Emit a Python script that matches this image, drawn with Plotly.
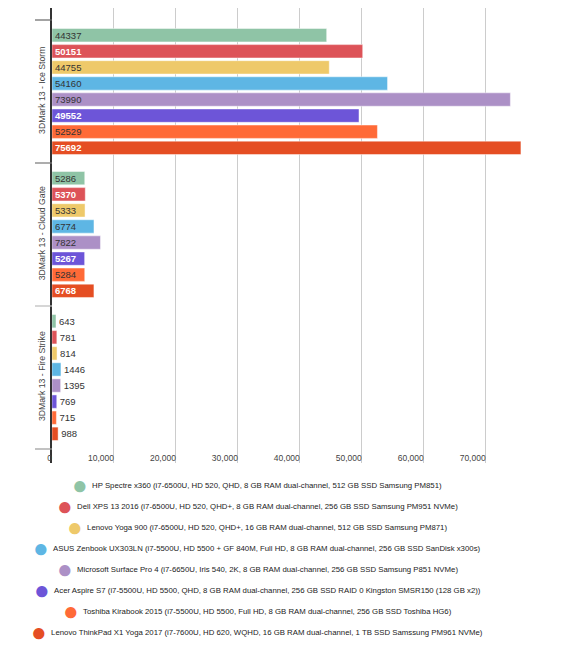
import plotly.graph_objects as go

tests = ["3DMark 13 - Ice Storm", "3DMark 13 - Cloud Gate", "3DMark 13 - Fire Strike"]

laptops = [
    "HP Spectre x360 (i7-6500U, HD 520, QHD, 8 GB RAM dual-channel, 512 GB SSD Samsung PM851)",
    "Dell XPS 13 2016 (i7-6500U, HD 520, QHD+, 8 GB RAM dual-channel, 256 GB SSD Samsung PM951 NVMe)",
    "Lenovo Yoga 900 (i7-6500U, HD 520, QHD+, 16 GB RAM dual-channel, 512 GB SSD Samsung PM871)",
    "ASUS Zenbook UX303LN (i7-5500U, HD 5500 + GF 840M, Full HD, 8 GB RAM dual-channel, 256 GB SSD SanDisk x300s)",
    "Microsoft Surface Pro 4 (i7-6650U, Iris 540, 2K, 8 GB RAM dual-channel, 256 GB SSD Samsung P851 NVMe)",
    "Acer Aspire S7 (i7-5500U, HD 5500, QHD, 8 GB RAM dual-channel, 256 GB SSD RAID 0 Kingston SMSR150 (128 GB x2))",
    "Toshiba Kirabook 2015 (i7-5500U, HD 5500, Full HD, 8 GB RAM dual-channel, 256 GB SSD Toshiba HG6)",
    "Lenovo ThinkPad X1 Yoga 2017 (i7-7600U, HD 620, WQHD, 16 GB RAM dual-channel, 1 TB SSD Samssung PM961 NVMe)",
]

ice_storm = [44337, 50151, 44755, 54160, 73990, 49552, 52529, 75692]
cloud_gate = [5286, 5370, 5333, 6774, 7822, 5267, 5284, 6768]
fire_strike = [643, 781, 814, 1446, 1395, 769, 715, 988]

colors = ["#8FC4A6", "#DD5358", "#EEC96A", "#5EB6E4", "#AC90C6", "#6D55D8", "#FF6A37", "#E54E23"]
white_text = {1, 5, 7}

font = "Liberation Sans, Arial, sans-serif"

# page body has an 8px margin, so everything is laid out 8px up/left
off = 8
fig_w, fig_h = 567 - off, 647 - off
left, top = 52 - off, 0
plot_bottom = 463 - off
plot_right = 547 - off
bottom = fig_h - plot_bottom
right = fig_w - plot_right
plot_w = plot_right - left
plot_h = plot_bottom - top


def xpaper(px):
    return (px - off - left) / plot_w


def ypaper(px):
    return (plot_bottom - (px - off)) / plot_h


fig = go.Figure()
for i, name in enumerate(laptops):
    vals = [ice_storm[i], cloud_gate[i], fire_strike[i]]
    fig.add_trace(go.Bar(
        x=vals,
        y=tests,
        orientation="h",
        name=name,
        marker=dict(color=colors[i], line=dict(color="rgba(255,255,255,0.45)", width=1)),
        text=[str(v) for v in vals],
        texttemplate="%{text}",
        textposition=["inside" if v > 3000 else "outside" for v in vals],
        insidetextanchor="start",
        constraintext="none",
        insidetextfont=dict(
            family=font, size=9.5,
            color="white" if i in white_text else "#333333",
            weight="bold" if i in white_text else "normal",
        ),
        outsidetextfont=dict(family=font, size=9.5, color="#333333"),
        cliponaxis=False,
        showlegend=False,
    ))

# group boundary ticks on the category axis (screen y of each boundary)
boundary_y = [20, 163, 306, 449]
tick_colors = ["#666666", "#777777", "#bbbbbb", "#999999"]
for by, c in zip(boundary_y, tick_colors):
    fig.add_shape(type="line", xref="paper", yref="paper",
                  x0=xpaper(35), x1=xpaper(52), y0=ypaper(by), y1=ypaper(by),
                  line=dict(color=c, width=1.2))

# right border of the chart container
fig.add_shape(type="line", xref="paper", yref="paper",
              x0=xpaper(565), x1=xpaper(565), y0=ypaper(647), y1=ypaper(off),
              line=dict(color="#cccccc", width=1.5))

# centred legend rows
for i, name in enumerate(laptops):
    fig.add_annotation(
        xref="paper", yref="paper", x=xpaper(257), y=ypaper(485 + 21 * i),
        xanchor="center", yanchor="middle", showarrow=False,
        text=f'<span style="color:{colors[i]};font-size:26px;baseline-shift:-6px">●</span>'
             f'&nbsp;&nbsp;{name}',
        font=dict(family=font, size=7.8, color="#222222"),
    )

fig.update_layout(
    width=fig_w, height=fig_h,
    margin=dict(l=left, r=right, t=top, b=bottom),
    paper_bgcolor="white", plot_bgcolor="white",
    barmode="group", bargap=0.1, bargroupgap=0.17,
    font=dict(family=font, color="#444444"),
    xaxis=dict(
        range=[0, 79900], dtick=10000, tickformat=",d",
        showgrid=True, gridcolor="#cccccc", gridwidth=1, zeroline=False,
        ticklabelposition="outside left", ticklabelstandoff=-12,
        tickfont=dict(family=font, size=8.5, color="#444444"),
        automargin=False,
    ),
    yaxis=dict(
        type="category", range=[2.598, -0.584],
        showline=True, linecolor="#333333", linewidth=1.5,
        ticks="", tickangle=-90, showgrid=False, ticklabelstandoff=2,
        tickfont=dict(family=font, size=8.7, color="#444444"),
        automargin=False,
    ),
)

fig.write_html("out.html")
